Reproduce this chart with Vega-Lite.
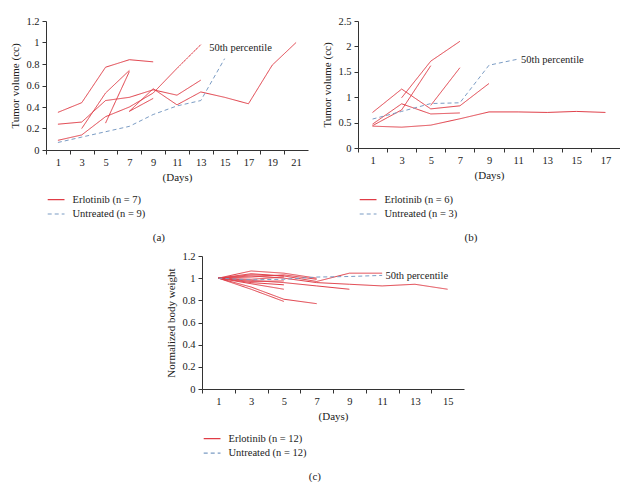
{
  "$schema": "https://vega.github.io/schema/vega-lite/v6.json",
  "background": "white",
  "padding": {"left": 9, "top": 16, "right": 0, "bottom": 0},
  "config": {
    "view": {"stroke": null},
    "font": "Liberation Serif",
    "axis": {"domainColor": "#333", "tickColor": "#333", "labelFont": "Liberation Serif", "titleFont": "Liberation Serif", "labelFontSize": 10.5, "titleFontSize": 11, "titleFontWeight": "normal", "labelColor": "#222", "titleColor": "#222", "grid": false, "tickSize": 4, "labelFlush": false, "labelOverlap": false, "tickCount": 40},
    "legend": {"labelFont": "Liberation Serif", "labelFontSize": 10.5, "labelColor": "#222", "symbolStrokeWidth": 1.2, "symbolSize": 144, "symbolType": "M-1.4,0H1.4", "rowPadding": 1.4, "labelOffset": 9.4, "padding": 0},
    "title": {"font": "Liberation Serif", "fontSize": 11, "fontWeight": "normal", "color": "#222"}
  },
  "datasets": {
    "a": [
      {"id": "e1", "series": "Erlotinib (n = 7)", "day": 1, "value": 0.35},
      {"id": "e1", "series": "Erlotinib (n = 7)", "day": 3, "value": 0.44},
      {"id": "e1", "series": "Erlotinib (n = 7)", "day": 5, "value": 0.77},
      {"id": "e1", "series": "Erlotinib (n = 7)", "day": 7, "value": 0.84},
      {"id": "e1", "series": "Erlotinib (n = 7)", "day": 9, "value": 0.82},
      {"id": "e2", "series": "Erlotinib (n = 7)", "day": 1, "value": 0.24},
      {"id": "e2", "series": "Erlotinib (n = 7)", "day": 3, "value": 0.26},
      {"id": "e2", "series": "Erlotinib (n = 7)", "day": 5, "value": 0.46},
      {"id": "e2", "series": "Erlotinib (n = 7)", "day": 7, "value": 0.49},
      {"id": "e2", "series": "Erlotinib (n = 7)", "day": 9, "value": 0.56},
      {"id": "e2", "series": "Erlotinib (n = 7)", "day": 11, "value": 0.51},
      {"id": "e2", "series": "Erlotinib (n = 7)", "day": 13, "value": 0.65},
      {"id": "e3", "series": "Erlotinib (n = 7)", "day": 1, "value": 0.09},
      {"id": "e3", "series": "Erlotinib (n = 7)", "day": 3, "value": 0.14},
      {"id": "e3", "series": "Erlotinib (n = 7)", "day": 5, "value": 0.31},
      {"id": "e3", "series": "Erlotinib (n = 7)", "day": 7, "value": 0.40},
      {"id": "e3", "series": "Erlotinib (n = 7)", "day": 9, "value": 0.53},
      {"id": "e3", "series": "Erlotinib (n = 7)", "day": 11, "value": 0.76},
      {"id": "e3", "series": "Erlotinib (n = 7)", "day": 13, "value": 0.98},
      {"id": "e4", "series": "Erlotinib (n = 7)", "day": 3, "value": 0.20},
      {"id": "e4", "series": "Erlotinib (n = 7)", "day": 5, "value": 0.53},
      {"id": "e4", "series": "Erlotinib (n = 7)", "day": 7, "value": 0.74},
      {"id": "e5", "series": "Erlotinib (n = 7)", "day": 5, "value": 0.25},
      {"id": "e5", "series": "Erlotinib (n = 7)", "day": 7, "value": 0.73},
      {"id": "e6", "series": "Erlotinib (n = 7)", "day": 7, "value": 0.36},
      {"id": "e6", "series": "Erlotinib (n = 7)", "day": 9, "value": 0.57},
      {"id": "e6", "series": "Erlotinib (n = 7)", "day": 11, "value": 0.42},
      {"id": "e6", "series": "Erlotinib (n = 7)", "day": 13, "value": 0.54},
      {"id": "e6", "series": "Erlotinib (n = 7)", "day": 15, "value": 0.49},
      {"id": "e6", "series": "Erlotinib (n = 7)", "day": 17, "value": 0.43},
      {"id": "e6", "series": "Erlotinib (n = 7)", "day": 19, "value": 0.79},
      {"id": "e6", "series": "Erlotinib (n = 7)", "day": 21, "value": 1.0},
      {"id": "e7", "series": "Erlotinib (n = 7)", "day": 7, "value": 0.36},
      {"id": "e7", "series": "Erlotinib (n = 7)", "day": 9, "value": 0.48},
      {"id": "u", "series": "Untreated (n = 9)", "day": 1, "value": 0.07},
      {"id": "u", "series": "Untreated (n = 9)", "day": 3, "value": 0.12},
      {"id": "u", "series": "Untreated (n = 9)", "day": 5, "value": 0.17},
      {"id": "u", "series": "Untreated (n = 9)", "day": 7, "value": 0.22},
      {"id": "u", "series": "Untreated (n = 9)", "day": 9, "value": 0.33},
      {"id": "u", "series": "Untreated (n = 9)", "day": 11, "value": 0.41},
      {"id": "u", "series": "Untreated (n = 9)", "day": 13, "value": 0.46},
      {"id": "u", "series": "Untreated (n = 9)", "day": 15, "value": 0.85}
    ],
    "b": [
      {"id": "b1", "series": "Erlotinib (n = 6)", "day": 1, "value": 0.70},
      {"id": "b1", "series": "Erlotinib (n = 6)", "day": 3, "value": 1.16},
      {"id": "b1", "series": "Erlotinib (n = 6)", "day": 5, "value": 0.77},
      {"id": "b1", "series": "Erlotinib (n = 6)", "day": 7, "value": 0.83},
      {"id": "b1", "series": "Erlotinib (n = 6)", "day": 9, "value": 1.27},
      {"id": "b2", "series": "Erlotinib (n = 6)", "day": 1, "value": 0.47},
      {"id": "b2", "series": "Erlotinib (n = 6)", "day": 3, "value": 0.87},
      {"id": "b2", "series": "Erlotinib (n = 6)", "day": 5, "value": 0.67},
      {"id": "b2", "series": "Erlotinib (n = 6)", "day": 7, "value": 0.69},
      {"id": "b3", "series": "Erlotinib (n = 6)", "day": 1, "value": 0.43},
      {"id": "b3", "series": "Erlotinib (n = 6)", "day": 3, "value": 0.41},
      {"id": "b3", "series": "Erlotinib (n = 6)", "day": 5, "value": 0.45},
      {"id": "b3", "series": "Erlotinib (n = 6)", "day": 7, "value": 0.575},
      {"id": "b3", "series": "Erlotinib (n = 6)", "day": 9, "value": 0.71},
      {"id": "b3", "series": "Erlotinib (n = 6)", "day": 11, "value": 0.71},
      {"id": "b3", "series": "Erlotinib (n = 6)", "day": 13, "value": 0.70},
      {"id": "b3", "series": "Erlotinib (n = 6)", "day": 15, "value": 0.72},
      {"id": "b3", "series": "Erlotinib (n = 6)", "day": 17, "value": 0.70},
      {"id": "b4", "series": "Erlotinib (n = 6)", "day": 1, "value": 0.44},
      {"id": "b4", "series": "Erlotinib (n = 6)", "day": 3, "value": 0.75},
      {"id": "b4", "series": "Erlotinib (n = 6)", "day": 5, "value": 1.62},
      {"id": "b5", "series": "Erlotinib (n = 6)", "day": 3, "value": 0.99},
      {"id": "b5", "series": "Erlotinib (n = 6)", "day": 5, "value": 1.71},
      {"id": "b5", "series": "Erlotinib (n = 6)", "day": 7, "value": 2.1},
      {"id": "b6", "series": "Erlotinib (n = 6)", "day": 5, "value": 0.84},
      {"id": "b6", "series": "Erlotinib (n = 6)", "day": 7, "value": 1.58},
      {"id": "u", "series": "Untreated (n = 3)", "day": 1, "value": 0.57},
      {"id": "u", "series": "Untreated (n = 3)", "day": 3, "value": 0.72},
      {"id": "u", "series": "Untreated (n = 3)", "day": 5, "value": 0.875},
      {"id": "u", "series": "Untreated (n = 3)", "day": 7, "value": 0.89},
      {"id": "u", "series": "Untreated (n = 3)", "day": 9, "value": 1.63},
      {"id": "u", "series": "Untreated (n = 3)", "day": 11, "value": 1.75}
    ],
    "c": [
      {"id": "c1", "series": "Erlotinib (n = 12)", "day": 1, "value": 1.0},
      {"id": "c1", "series": "Erlotinib (n = 12)", "day": 3, "value": 1.065},
      {"id": "c1", "series": "Erlotinib (n = 12)", "day": 5, "value": 1.045},
      {"id": "c1", "series": "Erlotinib (n = 12)", "day": 7, "value": 1.0},
      {"id": "c2", "series": "Erlotinib (n = 12)", "day": 1, "value": 1.0},
      {"id": "c2", "series": "Erlotinib (n = 12)", "day": 3, "value": 1.03},
      {"id": "c2", "series": "Erlotinib (n = 12)", "day": 5, "value": 1.02},
      {"id": "c2", "series": "Erlotinib (n = 12)", "day": 7, "value": 0.97},
      {"id": "c2", "series": "Erlotinib (n = 12)", "day": 9, "value": 1.045},
      {"id": "c2", "series": "Erlotinib (n = 12)", "day": 11, "value": 1.045},
      {"id": "c3", "series": "Erlotinib (n = 12)", "day": 1, "value": 1.0},
      {"id": "c3", "series": "Erlotinib (n = 12)", "day": 3, "value": 1.02},
      {"id": "c3", "series": "Erlotinib (n = 12)", "day": 5, "value": 1.0},
      {"id": "c3", "series": "Erlotinib (n = 12)", "day": 7, "value": 0.96},
      {"id": "c3", "series": "Erlotinib (n = 12)", "day": 9, "value": 0.945},
      {"id": "c3", "series": "Erlotinib (n = 12)", "day": 11, "value": 0.93},
      {"id": "c3", "series": "Erlotinib (n = 12)", "day": 13, "value": 0.945},
      {"id": "c3", "series": "Erlotinib (n = 12)", "day": 15, "value": 0.90},
      {"id": "c4", "series": "Erlotinib (n = 12)", "day": 1, "value": 1.0},
      {"id": "c4", "series": "Erlotinib (n = 12)", "day": 3, "value": 0.98},
      {"id": "c4", "series": "Erlotinib (n = 12)", "day": 5, "value": 0.96},
      {"id": "c4", "series": "Erlotinib (n = 12)", "day": 7, "value": 0.93},
      {"id": "c4", "series": "Erlotinib (n = 12)", "day": 9, "value": 0.90},
      {"id": "c5", "series": "Erlotinib (n = 12)", "day": 1, "value": 1.0},
      {"id": "c5", "series": "Erlotinib (n = 12)", "day": 3, "value": 0.92},
      {"id": "c5", "series": "Erlotinib (n = 12)", "day": 5, "value": 0.81},
      {"id": "c5", "series": "Erlotinib (n = 12)", "day": 7, "value": 0.77},
      {"id": "c6", "series": "Erlotinib (n = 12)", "day": 1, "value": 1.0},
      {"id": "c6", "series": "Erlotinib (n = 12)", "day": 3, "value": 0.90},
      {"id": "c6", "series": "Erlotinib (n = 12)", "day": 5, "value": 0.79},
      {"id": "c7", "series": "Erlotinib (n = 12)", "day": 1, "value": 1.0},
      {"id": "c7", "series": "Erlotinib (n = 12)", "day": 3, "value": 0.95},
      {"id": "c7", "series": "Erlotinib (n = 12)", "day": 5, "value": 0.90},
      {"id": "c8", "series": "Erlotinib (n = 12)", "day": 1, "value": 1.0},
      {"id": "c8", "series": "Erlotinib (n = 12)", "day": 3, "value": 1.01},
      {"id": "c8", "series": "Erlotinib (n = 12)", "day": 5, "value": 1.03},
      {"id": "c8", "series": "Erlotinib (n = 12)", "day": 7, "value": 0.99},
      {"id": "c9", "series": "Erlotinib (n = 12)", "day": 1, "value": 1.0},
      {"id": "c9", "series": "Erlotinib (n = 12)", "day": 3, "value": 0.99},
      {"id": "c9", "series": "Erlotinib (n = 12)", "day": 5, "value": 1.01},
      {"id": "c10", "series": "Erlotinib (n = 12)", "day": 1, "value": 1.0},
      {"id": "c10", "series": "Erlotinib (n = 12)", "day": 3, "value": 0.97},
      {"id": "c10", "series": "Erlotinib (n = 12)", "day": 5, "value": 0.975},
      {"id": "c11", "series": "Erlotinib (n = 12)", "day": 1, "value": 1.0},
      {"id": "c11", "series": "Erlotinib (n = 12)", "day": 3, "value": 1.04},
      {"id": "c11", "series": "Erlotinib (n = 12)", "day": 5, "value": 1.02},
      {"id": "c12", "series": "Erlotinib (n = 12)", "day": 1, "value": 1.0},
      {"id": "c12", "series": "Erlotinib (n = 12)", "day": 3, "value": 0.96},
      {"id": "c12", "series": "Erlotinib (n = 12)", "day": 5, "value": 0.94},
      {"id": "u", "series": "Untreated (n = 12)", "day": 1, "value": 1.0},
      {"id": "u", "series": "Untreated (n = 12)", "day": 3, "value": 0.985},
      {"id": "u", "series": "Untreated (n = 12)", "day": 5, "value": 0.99},
      {"id": "u", "series": "Untreated (n = 12)", "day": 7, "value": 1.01},
      {"id": "u", "series": "Untreated (n = 12)", "day": 9, "value": 1.015},
      {"id": "u", "series": "Untreated (n = 12)", "day": 11, "value": 1.025}
    ]
  },
  "resolve": {"scale": {"color": "independent", "strokeDash": "independent"}, "legend": {"color": "independent", "strokeDash": "independent"}},
  "spacing": 8,
  "center": true,
  "vconcat": [
    {
      "hconcat": [
        {
          "width": 262, "height": 129,
          "title": {"text": "(a)", "orient": "bottom", "frame": "bounds", "anchor": "middle", "offset": 12},
          "layer": [
            {
              "data": {"name": "a"},
              "mark": {"type": "line", "strokeWidth": 1},
              "encoding": {
                "x": {"field": "day", "type": "quantitative", "scale": {"domain": [0, 22], "nice": false, "zero": false},
                      "axis": {"title": "(Days)", "values": [1,3,5,7,9,11,13,15,17,19,21], "format": "d", "tickCount": 40, "tickOffset": -11.9, "labelOffset": 11.9, "labelPadding": 3, "titlePadding": 4, "labelOverlap": false, "labelFlush": false}},
                "y": {"field": "value", "type": "quantitative", "scale": {"domain": [0, 1.2], "nice": false},
                      "axis": {"title": "Tumor volume (cc)", "values": [0,0.2,0.4,0.6,0.8,1,1.2], "tickCount": 40, "format": "~g", "labelPadding": 3, "titlePadding": 5, "labelOverlap": false}},
                "detail": {"field": "id"},
                "color": {"field": "series", "type": "nominal", "scale": {"domain": ["Erlotinib (n = 7)", "Untreated (n = 9)"], "range": ["#e03c46", "#7b9cc4"]},
                          "legend": {"title": null, "orient": "none", "legendX": 3.1, "legendY": 171.6}},
                "strokeDash": {"field": "series", "type": "nominal", "scale": {"domain": ["Erlotinib (n = 7)", "Untreated (n = 9)"], "range": [[1, 0], [4, 3]]},
                          "legend": {"title": null, "orient": "none", "legendX": 3.1, "legendY": 171.6}}
              }
            },
            {
              "data": {"values": [{"day": 13.7, "value": 0.953, "label": "50th percentile"}]},
              "mark": {"type": "text", "align": "left", "baseline": "middle", "font": "Liberation Serif", "fontSize": 10.5, "color": "#222"},
              "encoding": {"x": {"field": "day", "type": "quantitative"}, "y": {"field": "value", "type": "quantitative"}, "text": {"field": "label"}}
            }
          ]
        },
        {
          "width": 262, "height": 127,
          "title": {"text": "(b)", "orient": "bottom", "frame": "bounds", "anchor": "middle", "offset": 12},
          "layer": [
            {
              "data": {"name": "b"},
              "mark": {"type": "line", "strokeWidth": 1},
              "encoding": {
                "x": {"field": "day", "type": "quantitative", "scale": {"domain": [0, 18], "nice": false, "zero": false},
                      "axis": {"title": "(Days)", "values": [1,3,5,7,9,11,13,15,17], "format": "d", "tickCount": 40, "tickOffset": -14.55, "labelOffset": 14.55, "labelPadding": 3, "titlePadding": 4, "labelOverlap": false, "labelFlush": false}},
                "y": {"field": "value", "type": "quantitative", "scale": {"domain": [0, 2.5], "nice": false},
                      "axis": {"title": "Tumor volume (cc)", "values": [0,0.5,1,1.5,2,2.5], "tickCount": 40, "format": "~g", "labelPadding": 3, "titlePadding": 5, "labelOverlap": false}},
                "detail": {"field": "id"},
                "color": {"field": "series", "type": "nominal", "scale": {"domain": ["Erlotinib (n = 6)", "Untreated (n = 3)"], "range": ["#e03c46", "#7b9cc4"]},
                          "legend": {"title": null, "orient": "none", "legendX": 3.1, "legendY": 171.6}},
                "strokeDash": {"field": "series", "type": "nominal", "scale": {"domain": ["Erlotinib (n = 6)", "Untreated (n = 3)"], "range": [[1, 0], [4, 3]]},
                          "legend": {"title": null, "orient": "none", "legendX": 3.1, "legendY": 171.6}}
              }
            },
            {
              "data": {"values": [{"day": 11.2, "value": 1.724, "label": "50th percentile"}]},
              "mark": {"type": "text", "align": "left", "baseline": "middle", "font": "Liberation Serif", "fontSize": 10.5, "color": "#222"},
              "encoding": {"x": {"field": "day", "type": "quantitative"}, "y": {"field": "value", "type": "quantitative"}, "text": {"field": "label"}}
            }
          ]
        }
      ],
      "spacing": 13,
      "resolve": {"scale": {"color": "independent", "strokeDash": "independent"}, "legend": {"color": "independent", "strokeDash": "independent"}}
    },
    {
      "width": 262, "height": 133,
      "title": {"text": "(c)", "orient": "bottom", "frame": "bounds", "anchor": "middle", "offset": 12},
      "layer": [
        {
          "data": {"name": "c"},
          "mark": {"type": "line", "strokeWidth": 1},
          "encoding": {
            "x": {"field": "day", "type": "quantitative", "scale": {"domain": [0, 16], "nice": false, "zero": false},
                  "axis": {"title": "(Days)", "values": [1,3,5,7,9,11,13,15], "format": "d", "tickCount": 40, "tickOffset": -16.35, "labelOffset": 16.35, "labelPadding": 3, "titlePadding": 4, "labelOverlap": false, "labelFlush": false}},
            "y": {"field": "value", "type": "quantitative", "scale": {"domain": [0, 1.2], "nice": false},
                  "axis": {"title": "Normalized body weight", "values": [0,0.2,0.4,0.6,0.8,1,1.2], "tickCount": 40, "format": "~g", "labelPadding": 3, "titlePadding": 5, "labelOverlap": false}},
            "detail": {"field": "id"},
            "color": {"field": "series", "type": "nominal", "scale": {"domain": ["Erlotinib (n = 12)", "Untreated (n = 12)"], "range": ["#e03c46", "#7b9cc4"]},
                      "legend": {"title": null, "orient": "none", "legendX": 3.1, "legendY": 175.7}},
            "strokeDash": {"field": "series", "type": "nominal", "scale": {"domain": ["Erlotinib (n = 12)", "Untreated (n = 12)"], "range": [[1, 0], [4, 3]]},
                      "legend": {"title": null, "orient": "none", "legendX": 3.1, "legendY": 175.7}}
          }
        },
        {
          "data": {"values": [{"day": 11.2, "value": 1.02, "label": "50th percentile"}]},
          "mark": {"type": "text", "align": "left", "baseline": "middle", "font": "Liberation Serif", "fontSize": 10.5, "color": "#222"},
          "encoding": {"x": {"field": "day", "type": "quantitative"}, "y": {"field": "value", "type": "quantitative"}, "text": {"field": "label"}}
        }
      ]
    }
  ]
}
